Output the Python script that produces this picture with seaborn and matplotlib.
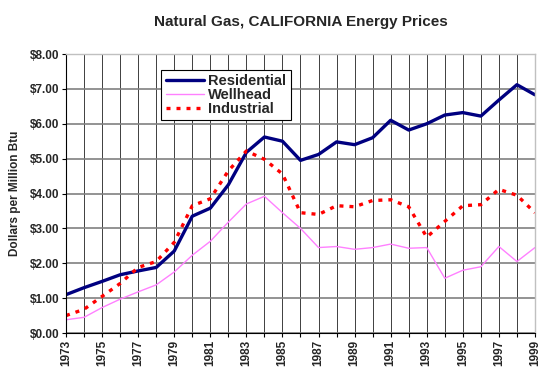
import matplotlib
matplotlib.use("Agg")
import matplotlib.pyplot as plt
import numpy as np
import pandas as pd
import seaborn as sns

years = list(range(1973, 2000))
residential = [1.10, 1.30, 1.48, 1.67, 1.78, 1.88, 2.35, 3.35, 3.58, 4.25, 5.18, 5.62, 5.50,
               4.95, 5.12, 5.48, 5.40, 5.60, 6.10, 5.82, 6.00, 6.25, 6.32, 6.22, 6.68, 7.12, 6.83]
wellhead = [0.38, 0.45, 0.73, 0.97, 1.18, 1.38, 1.75, 2.23, 2.63, 3.18, 3.70, 3.92, 3.45,
            3.00, 2.45, 2.48, 2.40, 2.45, 2.55, 2.43, 2.45, 1.57, 1.80, 1.90, 2.48, 2.05, 2.45]
industrial = [0.50, 0.68, 1.05, 1.42, 1.88, 2.05, 2.60, 3.65, 3.85, 4.65, 5.22, 4.98, 4.56,
              3.45, 3.40, 3.65, 3.62, 3.80, 3.82, 3.62, 2.75, 3.20, 3.65, 3.68, 4.12, 3.95, 3.45]

df = pd.DataFrame({"Year": years, "Residential": residential,
                   "Wellhead": wellhead, "Industrial": industrial})

sns.set_style("white")
plt.rcParams["font.family"] = ["Liberation Sans", "DejaVu Sans"]

fig = plt.figure(figsize=(5.47, 3.74), dpi=100)
ax = fig.add_axes([0.1207, 0.1096, 0.8573, 0.746])

sns.lineplot(data=df, x="Year", y="Residential", ax=ax, color="#000080", lw=2.4, label="Residential")
sns.lineplot(data=df, x="Year", y="Wellhead", ax=ax, color="#FF80FF", lw=1, label="Wellhead")
sns.lineplot(data=df, x="Year", y="Industrial", ax=ax, color="#FF0000", lw=2.4,
             label="Industrial", dashes=False, linestyle=(0, (1.2, 1.8)))

ax.set_xlim(1973, 1999)
ax.set_ylim(0, 8)
ax.set_xticks(years)
ax.set_xticklabels([str(y) if y % 2 == 1 else "" for y in years], rotation=90,
                   fontsize=8.5, fontweight="bold")
ax.set_yticks(range(0, 9))
ax.set_yticklabels([f"${v}.00" for v in range(0, 9)], fontsize=8.5, fontweight="bold")
ax.tick_params(axis="both", length=3, width=0.8, color="black", direction="out", pad=2)
ax.tick_params(axis="x", bottom=True)
ax.tick_params(axis="y", left=True)

ax.grid(axis="x", color="#202020", lw=0.6)
ax.grid(axis="y", color="#808080", lw=1.2)
ax.set_axisbelow(True)
for s in ["left", "bottom"]:
    ax.spines[s].set_color("#000000")
    ax.spines[s].set_linewidth(0.8)
for s in ["top", "right"]:
    ax.spines[s].set_color("#c0c0c0")
    ax.spines[s].set_linewidth(1)

ax.set_xlabel("")
ax.set_ylabel("Dollars per Million Btu", fontsize=8.5, fontweight="bold", labelpad=6)
fig.suptitle("Natural Gas, CALIFORNIA Energy Prices", x=0.55, y=0.96,
             fontsize=11, fontweight="bold")

leg = ax.legend(loc="upper left", bbox_to_anchor=(0.188, 0.97), frameon=True,
                fancybox=False, edgecolor="#000000", framealpha=1,
                prop={"weight": "bold", "size": 10.5}, handlelength=2.6,
                handletextpad=0.3, borderpad=0.3, labelspacing=0.0)
leg.get_frame().set_linewidth(0.8)

fig.savefig("out.png", dpi=100, facecolor="white")
